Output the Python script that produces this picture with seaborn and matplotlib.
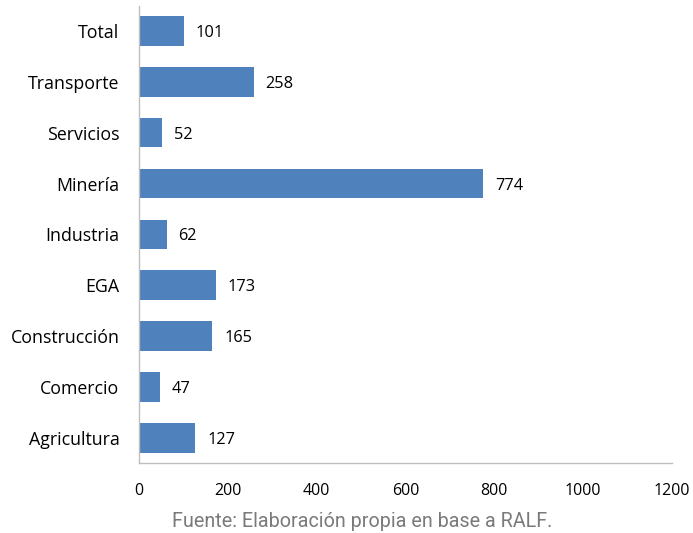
import matplotlib
matplotlib.use("Agg")
import matplotlib.pyplot as plt
import seaborn as sns
import pandas as pd

categories = ["Total", "Transporte", "Servicios", "Minería", "Industria",
              "EGA", "Construcción", "Comercio", "Agricultura"]
values = [101, 258, 52, 774, 62, 173, 165, 47, 127]
xticks = [0, 200, 400, 600, 800, 1000, 1200]

sns.set_theme(style="white")
plt.rcParams['font.family'] = ['Open Sans', 'DejaVu Sans']

df = pd.DataFrame({"cat": categories, "val": values})

fig = plt.figure(figsize=(6.93, 5.33), dpi=100)
ax = fig.add_axes([0.2006, 0.131, 0.7691, 0.8585])
sns.barplot(data=df, x="val", y="cat", order=categories, color="#4F81BD",
            saturation=1, width=0.58, ax=ax, edgecolor="none")

ax.set_xlim(0, 1200)
ax.set_xticks(xticks)
ax.set_xticklabels([str(t) for t in xticks], fontsize=11.5, color="#000000")
ax.tick_params(axis="x", length=5, width=1, color="#BFBFBF", direction="out", pad=9)
ax.tick_params(axis="y", length=0, pad=14, labelsize=12.8)
for lbl in ax.get_yticklabels():
    lbl.set_color("#000000")
ax.set_xlabel("")
ax.set_ylabel("")
for s in ["top", "right"]:
    ax.spines[s].set_visible(False)
for s in ["left", "bottom"]:
    ax.spines[s].set_color("#BFBFBF")
    ax.spines[s].set_linewidth(1)

for i, v in enumerate(values):
    ax.text(v + 27, i + 0.04, str(v), va="center", ha="left", fontsize=11.8, color="#000000")

fig.text(0.523, 0.003, "Fuente: Elaboración propia en base a RALF.", ha="center",
         va="bottom", fontsize=14.2, color="#7A7A7A", family=["Roboto", "DejaVu Sans"],
         fontweight="normal")

fig.savefig("out.png", dpi=100)
